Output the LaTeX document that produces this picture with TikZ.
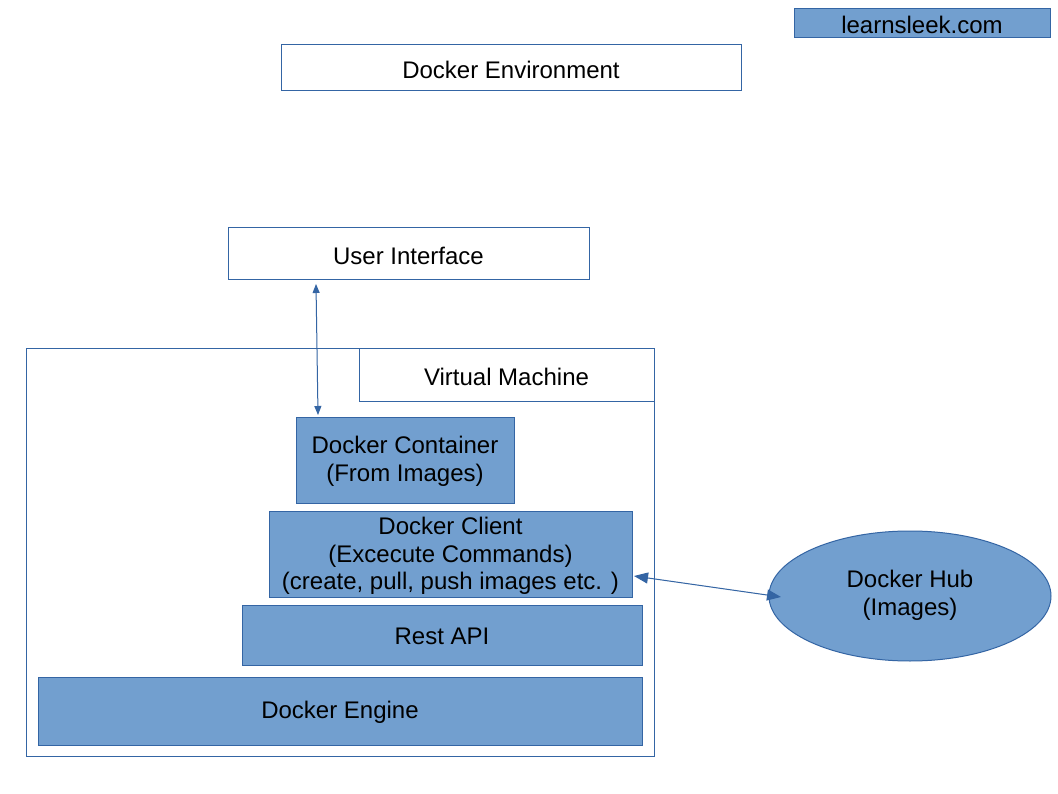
\documentclass[tikz,border=0pt]{standalone}
\usepackage{fontspec}
\setmainfont{Liberation Sans}
\usetikzlibrary{arrows.meta}
\definecolor{bfill}{HTML}{729FCF}
\definecolor{bline}{HTML}{3465A4}
\begin{document}
\begin{tikzpicture}[x=1pt,y=-1pt,
  every node/.style={font=\fontsize{24}{27.5}\selectfont, align=center, text=black},
  wbox/.style={draw=bline, line width=1pt, fill=white},
  fbox/.style={draw=bline, line width=1pt, fill=bfill},
  conn/.style={draw=bline, line width=1pt}]
\useasboundingbox (0,0) rectangle (1058,794);
\fill[white] (0,0) rectangle (1058,794);
% boxes
\draw[fbox] (794,9) rectangle (1050,38);
\node (ls) at (922,24.5) {learnsleek.com};
\draw[wbox] (281,45) rectangle (741,91);
\node (env) at (511,69.5) {Docker Environment};
\draw[wbox] (228,228) rectangle (589,280);
\node (ui) at (408.5,255.5) {User Interface};
\draw[wbox] (26,349) rectangle (654,756);
\draw[wbox] (359,349) rectangle (654,401);
\node (vm) at (506.5,376.5) {Virtual Machine};
\draw[fbox] (296,417) rectangle (514,503);
\node (dc) at (405,461.5) {Docker Container\\(From Images)};
\draw[fbox] (269,511) rectangle (632,597);
\node (cl) at (450.5,556) {Docker Client\\(Excecute Commands)\\(create, pull, push images etc. )};
\draw[fbox] (242,605) rectangle (642,665);
\node (api) at (442,636.5) {Rest API};
\draw[fbox] (38,677) rectangle (642,745);
\node (eng) at (340,712.5) {Docker Engine};
\draw[fbox] (910,596) ellipse [x radius=141, y radius=65];
\node (hub) at (910,595.5) {Docker Hub\\(Images)};
% connectors
\coordinate (a1) at (316,284);
\coordinate (a2) at (318,415);
\draw[conn, {Triangle[length=9pt,width=7pt]}-{Triangle[length=9pt,width=7pt]}] (a1) -- (a2);
\coordinate (b1) at (634,576);
\coordinate (b2) at (781,597);
\draw[conn, {Triangle[length=14pt,width=11pt]}-{Triangle[length=14pt,width=11pt]}] (b1) -- (b2);
\end{tikzpicture}
\end{document}
